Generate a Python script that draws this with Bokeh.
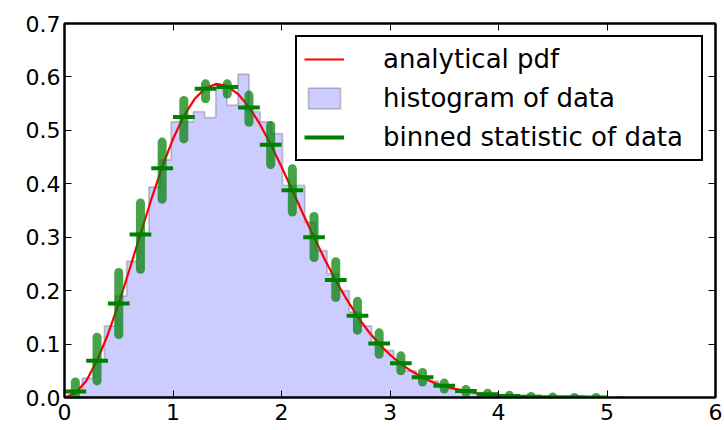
import numpy as np
from bokeh.plotting import figure
from bokeh.models import Range1d, LinearAxis, FixedTicker, NumeralTickFormatter, Legend, LegendItem
from bokeh.embed import file_html
from bokeh.resources import INLINE

# ---------------- data ----------------
# analytical pdf curve, sampled every 0.1 from 0 to 5
pdf_x = [0.0, 0.1, 0.2, 0.3, 0.4, 0.5, 0.6, 0.7, 0.8, 0.9,
         1.0, 1.1, 1.2, 1.3, 1.4, 1.5, 1.6, 1.7, 1.8, 1.9,
         2.0, 2.1, 2.2, 2.3, 2.4, 2.5, 2.6, 2.7, 2.8, 2.9,
         3.0, 3.1, 3.2, 3.3, 3.4, 3.5, 3.6, 3.7, 3.8, 3.9,
         4.0, 4.1, 4.2, 4.3, 4.4, 4.5, 4.6, 4.7, 4.8, 4.9, 5.0]
pdf_y = [0.000, 0.008, 0.031, 0.069, 0.118, 0.176, 0.240, 0.306, 0.371, 0.431,
         0.484, 0.527, 0.559, 0.579, 0.587, 0.583, 0.568, 0.544, 0.512, 0.474,
         0.432, 0.388, 0.343, 0.300, 0.258, 0.219, 0.184, 0.152, 0.124, 0.100,
         0.080, 0.063, 0.049, 0.038, 0.028, 0.021, 0.016, 0.012, 0.008, 0.006,
         0.004, 0.003, 0.002, 0.0014, 0.001, 0.0007, 0.0004, 0.0003, 0.0002, 0.0001, 0.0001]

# histogram of data: 50 bins between these limits, density heights
hist_min = 0.06
hist_max = 5.19
hist_density = [0.012, 0.036, 0.072, 0.134, 0.190, 0.255, 0.307, 0.394, 0.445, 0.516,
                0.516, 0.535, 0.524, 0.585, 0.547, 0.605, 0.535, 0.516, 0.494, 0.397,
                0.397, 0.328, 0.275, 0.232, 0.200, 0.160, 0.134, 0.104, 0.088, 0.066,
                0.050, 0.039, 0.031, 0.022, 0.016, 0.012, 0.008, 0.006, 0.004, 0.003,
                0.002, 0.001, 0.001, 0.001, 0.000, 0.001, 0.000, 0.000, 0.000, 0.001]

# binned statistic of data: 25 bins of width 0.2 from 0 to 5
bin_left = [0.0, 0.2, 0.4, 0.6, 0.8, 1.0, 1.2, 1.4, 1.6, 1.8, 2.0, 2.2, 2.4,
            2.6, 2.8, 3.0, 3.2, 3.4, 3.6, 3.8, 4.0, 4.2, 4.4, 4.6, 4.8]
bin_right = [0.2, 0.4, 0.6, 0.8, 1.0, 1.2, 1.4, 1.6, 1.8, 2.0, 2.2, 2.4, 2.6,
             2.8, 3.0, 3.2, 3.4, 3.6, 3.8, 4.0, 4.2, 4.4, 4.6, 4.8, 5.0]
bin_mean = [0.011, 0.069, 0.176, 0.305, 0.429, 0.525, 0.578, 0.581, 0.543, 0.473,
            0.388, 0.300, 0.220, 0.153, 0.101, 0.064, 0.038, 0.022, 0.012, 0.006,
            0.003, 0.0015, 0.0007, 0.0003, 0.0001]
# range of the pdf values of the points that fall in each bin (green dots)
dots_x = [0.1, 0.3, 0.5, 0.7, 0.9, 1.1, 1.3, 1.5, 1.7, 1.9, 2.1, 2.3, 2.5,
          2.7, 2.9, 3.1, 3.3, 3.5, 3.7, 3.9, 4.1, 4.3, 4.5, 4.7, 4.9]
dots_lo = [0.000, 0.031, 0.118, 0.240, 0.371, 0.484, 0.559, 0.568, 0.515, 0.436,
           0.347, 0.262, 0.187, 0.126, 0.081, 0.050, 0.029, 0.016, 0.009, 0.004,
           0.002, 0.001, 0.000, 0.000, 0.000]
dots_hi = [0.029, 0.113, 0.234, 0.364, 0.478, 0.556, 0.587, 0.587, 0.566, 0.509,
           0.428, 0.339, 0.254, 0.180, 0.121, 0.078, 0.047, 0.027, 0.015, 0.008,
           0.004, 0.002, 0.001, 0.000, 0.000]

x_ticks = [0, 1, 2, 3, 4, 5, 6]
y_ticks = [0.0, 0.1, 0.2, 0.3, 0.4, 0.5, 0.6, 0.7]

FONT = "DejaVu Sans"

p = figure(width=724, height=430, output_backend="svg", toolbar_location=None,
           x_range=Range1d(0, 6), y_range=Range1d(0, 0.7),
           min_border_left=64, min_border_right=9, min_border_top=23, min_border_bottom=33)
p.grid.visible = False
p.background_fill_color = "white"
p.border_fill_color = "white"
p.outline_line_color = "black"
p.outline_line_width = 2

# axes
for ax, ticks in ((p.xaxis[0], x_ticks), (p.yaxis[0], y_ticks)):
    ax.ticker = FixedTicker(ticks=ticks)
    ax.major_tick_in = 7
    ax.major_tick_out = 0
    ax.minor_tick_line_color = None
    ax.major_tick_line_color = "black"
    ax.major_tick_line_width = 1
    ax.axis_line_color = "black"
    ax.axis_line_width = 2
    ax.major_label_text_font = FONT
    ax.major_label_text_font_size = "22px"
    ax.major_label_text_color = "black"
p.xaxis[0].major_label_standoff = 6
p.yaxis[0].major_label_standoff = 4
p.yaxis[0].formatter = NumeralTickFormatter(format="0.0")
p.xaxis[0].formatter = NumeralTickFormatter(format="0")

top_axis = LinearAxis(ticker=FixedTicker(ticks=x_ticks))
right_axis = LinearAxis(ticker=FixedTicker(ticks=y_ticks))
for ax in (top_axis, right_axis):
    ax.major_tick_in = 7
    ax.major_tick_out = 0
    ax.minor_tick_line_color = None
    ax.major_tick_line_width = 1
    ax.axis_line_color = "black"
    ax.axis_line_width = 2
    ax.major_label_text_font_size = "0px"
    ax.major_label_text_color = None
    ax.major_label_text_alpha = 0
    ax.major_label_standoff = 0
p.add_layout(top_axis, "above")
p.add_layout(right_axis, "right")

# histogram (stepfilled)
edges = np.linspace(hist_min, hist_max, len(hist_density) + 1)
h = np.array(hist_density)
hx = np.repeat(edges, 2)
hy = np.concatenate([[0.0], np.repeat(h, 2), [0.0]])
r_hist = p.patch(hx, hy, fill_color="blue", fill_alpha=0.2,
                 line_color="black", line_alpha=0.2, line_width=1.8)

# analytical pdf
r_pdf = p.line(pdf_x, pdf_y, line_color="red", line_width=2.2)

# binned statistic
r_bin = p.segment(x0=bin_left, y0=bin_mean, x1=bin_right, y1=bin_mean,
                  line_color="green", line_width=4)

# points per bin
p.segment(x0=dots_x, y0=dots_lo, x1=dots_x, y1=dots_hi,
          line_color="green", line_alpha=0.72, line_width=9, line_cap="round")

legend = Legend(items=[
    LegendItem(label="analytical pdf", renderers=[r_pdf]),
    LegendItem(label="histogram of data", renderers=[r_hist]),
    LegendItem(label="binned statistic of data", renderers=[r_bin]),
], location="top_right")
legend.label_text_font = FONT
legend.label_text_font_size = "26px"
legend.label_text_color = "black"
legend.border_line_color = "black"
legend.border_line_alpha = 1.0
legend.border_line_width = 2
legend.background_fill_color = "white"
legend.background_fill_alpha = 1.0
legend.glyph_width = 40
legend.glyph_height = 26
legend.label_standoff = 39
legend.label_height = 26
legend.label_width = 311
legend.spacing = 9
legend.padding = 7
legend.margin = 12
p.add_layout(legend)

open("out.html", "w").write(file_html(p, INLINE))
